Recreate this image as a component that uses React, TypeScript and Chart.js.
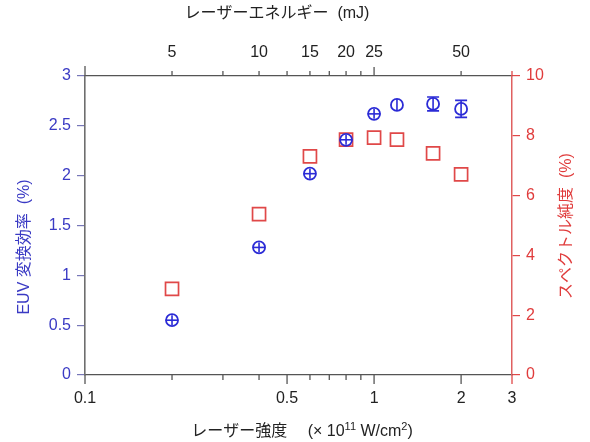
import { useEffect, useRef } from "react";
import { Chart, registerables, type ChartConfiguration, type Plugin } from "chart.js";

Chart.register(...registerables);

// laser intensity (x 10^11 W/cm^2)
const intensity = [0.2, 0.4, 0.6, 0.8, 1.0, 1.2, 1.6, 2.0];
// EUV conversion efficiency (%)
const conversionEff = [0.55, 1.28, 2.02, 2.36, 2.62, 2.71, 2.72, 2.67];
const conversionErr = [0.05, 0.05, 0.05, 0.05, 0.05, 0.06, 0.07, 0.085];
const intensityErr = [0.01, 0.02, 0.03, 0.04, 0.05, 0, 0, 0];
// spectral purity (%)
const spectralPurity = [2.88, 5.38, 7.31, 7.87, 7.94, 7.87, 7.41, 6.71];

const bottomTickLabels = [0.1, 0.5, 1, 2, 3];
const bottomMinorTicks = [0.2, 0.3, 0.4, 0.6, 0.7, 0.8, 0.9];
const energyTickLabels = [5, 10, 15, 20, 25, 50];
const energyMinorTicks = [2.5, 5, 7.5, 10, 12.5, 15, 17.5, 20, 22.5, 50, 75];
const energyMajorTicks = [25];

const BLUE = "#2b2bd6";
const BLUE_TEXT = "#3a3ac4";
const RED = "#e04848";
const RED_TEXT = "#e03c3c";
const AXIS = "#555555";
const FONT = "'Liberation Sans', 'Noto Sans CJK JP', sans-serif";

const tickMarks: Plugin<"scatter"> = {
  id: "tickMarks",
  afterDraw(chart) {
    const { ctx, chartArea } = chart;
    const xs = chart.scales.x;
    const xt = chart.scales.x2;
    ctx.save();
    ctx.lineWidth = 1.3;
    const mark = (px: number, y0: number, len: number, color: string) => {
      ctx.strokeStyle = color;
      ctx.beginPath();
      ctx.moveTo(px, y0);
      ctx.lineTo(px, y0 + len);
      ctx.stroke();
    };
    bottomTickLabels.forEach((v) => {
      mark(xs.getPixelForValue(v), chartArea.bottom, 9, v === 3 ? RED : AXIS);
    });
    bottomMinorTicks.forEach((v) => mark(xs.getPixelForValue(v), chartArea.bottom, 5, AXIS));
    energyMinorTicks.forEach((v) => {
      const len = v === 2.5 ? -10 : -5;
      mark(xt.getPixelForValue(v), chartArea.top, len, v === 75 ? RED : AXIS);
    });
    energyMajorTicks.forEach((v) => mark(xt.getPixelForValue(v), chartArea.top, -9, AXIS));
    ctx.restore();
  },
};

const errorBars: Plugin<"scatter"> = {
  id: "errorBars",
  afterDatasetsDraw(chart) {
    const { ctx } = chart;
    const xs = chart.scales.x;
    const ys = chart.scales.y;
    const radius = 6;
    ctx.save();
    ctx.strokeStyle = BLUE;
    ctx.lineWidth = 1.6;
    intensity.forEach((xv, i) => {
      const px = xs.getPixelForValue(xv);
      const yTop = ys.getPixelForValue(conversionEff[i] + conversionErr[i]);
      const yBot = ys.getPixelForValue(conversionEff[i] - conversionErr[i]);
      ctx.beginPath();
      ctx.moveTo(px, yTop);
      ctx.lineTo(px, yBot);
      ctx.stroke();
      const py = ys.getPixelForValue(conversionEff[i]);
      if (py - yTop > radius + 0.5) {
        ctx.beginPath();
        ctx.moveTo(px - 6, yTop);
        ctx.lineTo(px + 6, yTop);
        ctx.moveTo(px - 6, yBot);
        ctx.lineTo(px + 6, yBot);
        ctx.stroke();
      }
      if (intensityErr[i] > 0) {
        ctx.beginPath();
        ctx.moveTo(xs.getPixelForValue(xv - intensityErr[i]), py);
        ctx.lineTo(xs.getPixelForValue(xv + intensityErr[i]), py);
        ctx.stroke();
      }
    });
    ctx.restore();
  },
};

// text runs of the bottom title: [text, superscript]
const bottomTitleRuns: [string, boolean][] = [
  ["レーザー強度　 (× 10", false],
  ["11", true],
  [" W/cm", false],
  ["2", true],
  [")", false],
];

const axisTitles: Plugin<"scatter"> = {
  id: "axisTitles",
  afterDraw(chart) {
    const { ctx } = chart;
    ctx.save();
    ctx.font = `16px ${FONT}`;
    ctx.textAlign = "center";
    ctx.textBaseline = "middle";
    ctx.fillStyle = "#222222";
    ctx.fillText("レーザーエネルギー  (mJ)", 277, 14);

    const normal = `16px ${FONT}`;
    const small = `11px ${FONT}`;
    let total = 0;
    bottomTitleRuns.forEach(([t, sup]) => {
      ctx.font = sup ? small : normal;
      total += ctx.measureText(t).width;
    });
    let cx = 302 - total / 2;
    ctx.textAlign = "left";
    bottomTitleRuns.forEach(([t, sup]) => {
      ctx.font = sup ? small : normal;
      ctx.fillText(t, cx, sup ? 427 : 432);
      cx += ctx.measureText(t).width;
    });

    ctx.textAlign = "center";
    ctx.font = normal;
    ctx.translate(25, 247);
    ctx.rotate(-Math.PI / 2);
    ctx.fillStyle = BLUE_TEXT;
    ctx.fillText("EUV 変換効率  (%)", 0, 0);
    ctx.restore();
    ctx.save();
    ctx.font = `16px ${FONT}`;
    ctx.textAlign = "center";
    ctx.textBaseline = "middle";
    ctx.translate(567, 226);
    ctx.rotate(-Math.PI / 2);
    ctx.fillStyle = RED_TEXT;
    ctx.fillText("スペクトル純度  (%)", 0, 0);
    ctx.restore();
  },
};

export default function App() {
  const canvasRef = useRef<HTMLCanvasElement | null>(null);
  const chartRef = useRef<Chart<"scatter"> | null>(null);

  useEffect(() => {
    const canvas = canvasRef.current;
    if (!canvas) return;
    if (chartRef.current) {
      chartRef.current.destroy();
      chartRef.current = null;
    }

    const tickFont = { family: FONT, size: 16 };
    const config: ChartConfiguration<"scatter"> = {
      type: "scatter",
      data: {
        datasets: [
          {
            label: "EUV 変換効率",
            data: intensity.map((x, i) => ({ x, y: conversionEff[i] })),
            xAxisID: "x",
            yAxisID: "y",
            pointStyle: "circle",
            pointRadius: 6,
            borderColor: BLUE,
            borderWidth: 1.8,
            backgroundColor: "rgba(0,0,0,0)",
          },
          {
            label: "スペクトル純度",
            data: intensity.map((x, i) => ({ x, y: spectralPurity[i] })),
            xAxisID: "x",
            yAxisID: "y2",
            pointStyle: "rect",
            pointRadius: 9.2,
            borderColor: RED,
            borderWidth: 1.7,
            backgroundColor: "rgba(0,0,0,0)",
          },
        ],
      },
      options: {
        responsive: true,
        maintainAspectRatio: false,
        animation: false,
        layout: { padding: 0 },
        plugins: {
          legend: { display: false },
          tooltip: { enabled: false },
        },
        scales: {
          x: {
            type: "logarithmic",
            position: "bottom",
            min: 0.1,
            max: 3,
            afterBuildTicks: (scale) => {
              scale.ticks = bottomTickLabels.map((value) => ({ value }));
            },
            afterFit: (scale) => {
              scale.height = 67;
            },
            ticks: {
              autoSkip: false,
              maxRotation: 0,
              padding: 14,
              color: "#222222",
              font: tickFont,
              callback: (value) => String(value),
            },
            grid: { display: false, drawTicks: false },
            border: { display: true, color: AXIS, width: 1.3 },
          },
          x2: {
            type: "logarithmic",
            position: "top",
            min: 2.5,
            max: 75,
            afterBuildTicks: (scale) => {
              scale.ticks = energyTickLabels.map((value) => ({ value }));
            },
            afterFit: (scale) => {
              scale.height = 76;
            },
            ticks: {
              autoSkip: false,
              maxRotation: 0,
              padding: 14,
              color: "#222222",
              font: tickFont,
              callback: (value) => String(value),
            },
            grid: { display: false, drawTicks: false },
            border: { display: true, color: AXIS, width: 1.3 },
          },
          y: {
            type: "linear",
            position: "left",
            min: 0,
            max: 3,
            afterFit: (scale) => {
              scale.width = 85;
            },
            ticks: {
              stepSize: 0.5,
              padding: 6,
              color: BLUE_TEXT,
              font: tickFont,
              callback: (value) => String(Number(value)),
            },
            grid: {
              drawOnChartArea: false,
              drawTicks: true,
              tickLength: 8,
              color: "#7777b8",
              lineWidth: 1.2,
            },
            border: { display: true, color: "#6e6e6e", width: 1.6 },
          },
          y2: {
            type: "linear",
            position: "right",
            min: 0,
            max: 10,
            afterFit: (scale) => {
              scale.width = 78;
            },
            ticks: {
              stepSize: 2,
              padding: 6,
              color: RED_TEXT,
              font: tickFont,
              callback: (value) => String(Number(value)),
            },
            grid: {
              drawOnChartArea: false,
              drawTicks: true,
              tickLength: 8,
              color: RED,
              lineWidth: 1.2,
            },
            border: { display: true, color: "#e06060", width: 1.5 },
          },
        },
      },
      plugins: [tickMarks, errorBars, axisTitles],
    };

    chartRef.current = new Chart(canvas, config);
    return () => {
      if (chartRef.current) {
        chartRef.current.destroy();
        chartRef.current = null;
      }
    };
  }, []);

  return (
    <div style={{ position: "fixed", left: 0, top: 0, width: 590, height: 442, background: "#ffffff" }}>
      <canvas ref={canvasRef} />
    </div>
  );
}
